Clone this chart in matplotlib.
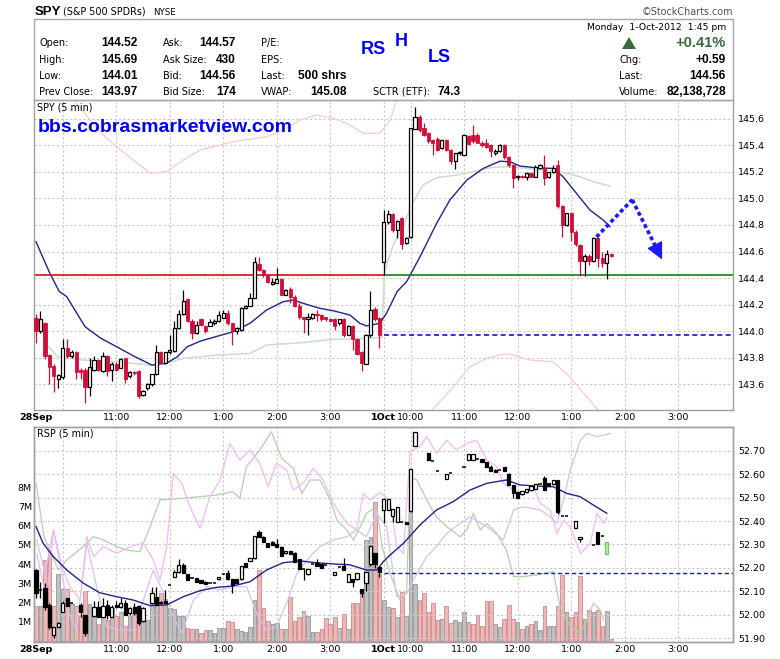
import numpy as np
import matplotlib
matplotlib.use("Agg")
import matplotlib.pyplot as plt
from matplotlib.patches import Rectangle, Polygon

plt.rcParams['font.family'] = ['DejaVu Sans']

# ---------------- time axis (5-minute bar index; 28 Sep = bars 0-77, 1 Oct = bars 78-) -------------
hour_ticks = [0, 6, 18, 30, 42, 54, 66, 78, 84, 96, 108, 120, 132, 144]
hour_labels = ["28Sep", "", "11:00", "12:00", "1:00", "2:00", "3:00",
               "1Oct", "10:00", "11:00", "12:00", "1:00", "2:00", "3:00"]
date_labels = ["28Sep", "1Oct"]
day2_start = 78

# ---------------- SPY 5-min candles ----------------
spy_open = [144.10,144.00,144.06,143.82,143.74,143.64,143.655,143.875,143.81,143.845,
            143.705,143.705,143.58,143.71,143.78,143.70,143.81,143.705,143.755,143.725,
            143.795,143.66,143.69,143.70,143.52,143.57,143.60,143.675,143.84,143.76,
            143.84,143.85,144.025,144.13,144.24,144.08,143.99,144.09,
            144.04,144.04,144.06,144.075,144.10,144.14,144.06,144.00,144.01,144.175,
            144.19,144.25,144.51,144.46,144.42,144.355,144.36,144.39,144.275,144.32,
            144.26,144.19,144.105,144.09,144.10,144.13,144.125,144.105,144.095,144.095,
            144.06,144.09,143.975,144.04,143.94,143.84,143.755,143.97,144.17,144.10,
            144.52,144.82,144.88,144.76,144.85,144.665,144.71,145.52,145.615,145.53,
            145.49,145.44,145.45,145.38,145.44,145.365,145.28,145.34,145.33,145.47,
            145.48,145.48,145.42,145.415,145.40,145.34,145.36,145.40,145.31,145.25,
            145.16,145.17,145.165,145.19,145.165,145.23,145.23,145.16,145.20,145.25,
            144.94,144.80,144.89,144.75,144.65,144.53,144.57,144.53,144.70,144.55,
            144.515,144.58]
spy_high = [144.13,144.15,144.07,143.83,143.75,143.68,143.94,143.94,143.86,143.85,
            143.725,143.72,143.80,143.81,143.79,143.84,143.82,143.77,143.77,143.80,
            143.80,143.70,143.70,143.71,143.56,143.61,143.68,143.90,143.85,143.84,
            143.975,144.08,144.16,144.31,144.25,144.09,144.08,144.10,
            144.05,144.09,144.09,144.15,144.16,144.16,144.06,144.03,144.18,144.20,
            144.29,144.56,144.56,144.47,144.43,144.40,144.475,144.40,144.32,144.33,
            144.27,144.21,144.11,144.14,144.14,144.16,144.13,144.11,144.10,144.10,
            144.09,144.10,144.05,144.05,143.95,143.85,143.98,144.30,144.18,144.11,
            144.91,144.91,144.89,144.84,144.86,144.71,145.53,145.69,145.63,145.57,
            145.50,145.45,145.46,145.44,145.45,145.37,145.34,145.36,145.48,145.48,
            145.55,145.49,145.43,145.45,145.41,145.37,145.41,145.41,145.32,145.26,
            145.18,145.18,145.20,145.20,145.25,145.26,145.33,145.20,145.25,145.29,
            144.95,144.89,144.90,144.76,144.66,144.58,144.58,144.71,144.71,144.60,
            144.615,144.59]
spy_low = [143.91,143.99,143.79,143.60,143.54,143.57,143.64,143.80,143.80,143.64,
           143.64,143.46,143.51,143.70,143.70,143.69,143.66,143.625,143.70,143.72,
           143.61,143.65,143.67,143.50,143.51,143.56,143.59,143.67,143.76,143.75,
           143.83,143.84,144.02,144.12,144.07,143.94,143.98,144.04,
           143.99,144.04,144.05,144.07,144.10,144.05,143.90,143.98,144.00,144.17,
           144.19,144.25,144.45,144.41,144.36,144.35,144.36,144.27,144.27,144.21,
           144.18,144.09,143.99,143.975,144.09,144.075,144.08,144.08,144.07,144.01,
           144.05,143.96,143.97,143.86,143.82,143.70,143.75,143.96,144.08,143.875,
           144.42,144.81,144.75,144.70,144.62,144.66,144.70,145.52,145.50,145.47,
           145.42,145.33,145.36,145.37,145.36,145.26,145.22,145.33,145.33,145.40,
           145.42,145.42,145.39,145.38,145.31,145.33,145.35,145.30,145.24,145.08,
           145.14,145.15,145.14,145.16,145.16,145.22,145.10,145.15,145.19,144.93,
           144.71,144.79,144.68,144.64,144.415,144.415,144.50,144.52,144.48,144.48,
           144.39,144.56]
spy_close = [144.00,144.09,143.81,143.73,143.66,143.67,143.875,143.81,143.845,143.69,
             143.695,143.58,143.73,143.78,143.71,143.81,143.70,143.755,143.71,143.79,
             143.64,143.69,143.685,143.51,143.55,143.605,143.675,143.845,143.76,143.84,
             143.855,144.025,144.13,144.225,144.08,143.99,144.05,144.05,
             144.00,144.07,144.08,144.12,144.14,144.06,144.00,144.025,144.175,144.19,
             144.25,144.52,144.46,144.42,144.37,144.37,144.39,144.275,144.31,144.26,
             144.19,144.11,144.09,144.11,144.13,144.125,144.09,144.09,144.08,144.04,
             144.09,143.975,144.04,143.94,143.83,143.76,143.97,144.16,144.09,143.975,
             144.82,144.88,144.76,144.83,144.66,144.70,145.53,145.61,145.515,145.48,
             145.43,145.42,145.365,145.44,145.365,145.28,145.34,145.35,145.48,145.41,
             145.43,145.42,145.40,145.39,145.36,145.36,145.40,145.31,145.25,145.15,
             145.17,145.16,145.19,145.165,145.24,145.25,145.15,145.20,145.23,144.94,
             144.80,144.89,144.75,144.655,144.53,144.57,144.53,144.70,144.55,144.515,
             144.58,144.565]

# SPY volume (millions per 5 min)
volume_m = [1.8,1.8,4.2,4.7,1.8,3.5,2.7,2.7,1.9,1.8,
            1.35,2.6,1.9,1.4,0.9,1.2,1.1,1.7,1.3,1.5,
            0.8,1.3,1.45,1.5,1.7,1.1,2.0,2.3,2.5,2.2,
            1.7,1.65,1.3,1.3,0.7,0.6,0.6,0.4,0.55,
            0.57,0.40,0.66,0.66,1.05,1.0,0.61,0.54,0.49,0.74,
            2.13,3.69,1.7,1.05,0.87,0.92,0.61,0.61,2.27,1.05,
            1.27,1.57,1.31,0.45,0.45,0.61,1.18,0.9,1.27,0.66,
            1.4,0.64,2.0,2.0,2.7,5.24,5.4,7.24,3.5,
            2.11,1.77,1.72,1.25,2.54,1.29,7.48,2.98,2.15,2.5,
            1.51,1.98,1.11,1.16,1.80,0.94,1.08,0.99,1.51,0.99,
            0.90,1.33,0.76,2.08,2.08,0.90,0.73,1.16,1.85,1.16,
            0.99,0.64,0.78,0.90,1.02,0.56,1.80,0.76,0.76,1.80,
            3.41,1.51,1.25,1.51,3.38,1.16,1.62,1.51,1.62,0.78,
            1.56,0.10]

# ---------------- RSP 5-min candles (None = no trade shown) ----------------
rsp_open = [52.191,52.106,52.113,52.042,51.914,51.95,52.014,52.07,52.049,None,
            52.042,52.0,None,51.995,52.035,51.992,52.042,51.992,52.042,52.032,
            52.052,52.007,52.035,52.038,51.975,None,52.049,52.078,52.049,52.059,
            52.127,52.16,52.184,52.213,52.174,52.159,52.155,52.149,52.142,52.134,
            52.134,52.151,52.174,52.18,52.151,52.151,52.151,52.22,52.231,52.241,
            52.352,52.333,52.305,52.312,52.301,52.291,52.262,52.27,52.265,52.237,
            52.194,52.174,52.215,52.22,52.217,52.213,None,52.17,52.205,52.208,
            52.142,52.151,52.151,52.11,52.137,52.217,52.262,52.205,
            52.448,52.448,52.42,52.396,52.396,52.396,52.443,52.72,None,None,
            52.69,52.655,52.613,None,52.578,52.605,None,None,52.63,52.659,
            52.66,52.663,52.663,52.652,52.63,52.619,52.619,52.63,52.602,52.552,
            52.524,52.517,52.524,52.534,52.538,52.559,52.584,52.562,52.559,52.574,
            52.42,52.42,None,52.37,52.325,None,None,52.296,52.353,52.335,
            52.261,None]
rsp_high = [52.195,52.14,52.134,52.05,51.95,51.97,52.06,52.07,52.049,None,
            52.05,52.0,None,52.06,52.06,52.07,52.065,52.04,52.06,52.07,
            52.065,52.035,52.05,52.04,52.035,None,52.12,52.12,52.06,52.106,
            52.127,52.19,52.237,52.22,52.175,52.159,52.156,52.15,52.143,52.134,
            52.134,52.16,52.174,52.19,52.152,52.152,52.21,52.22,52.241,52.336,
            52.362,52.334,52.306,52.313,52.322,52.292,52.274,52.271,52.266,52.238,
            52.194,52.194,52.215,52.237,52.218,52.213,None,52.184,52.205,52.241,
            52.174,52.152,52.177,52.11,52.184,52.294,52.263,52.206,
            52.50,52.495,52.453,52.46,52.396,52.397,52.62,52.78,None,None,
            52.69,52.655,52.613,None,52.602,52.605,None,None,52.63,52.687,
            52.687,52.663,52.664,52.653,52.64,52.62,52.619,52.631,52.603,52.553,
            52.525,52.528,52.538,52.548,52.557,52.559,52.59,52.563,52.574,52.575,
            52.42,52.42,None,52.399,52.332,None,None,52.296,52.354,52.335,
            52.311,None]
rsp_low = [52.07,52.07,52.02,51.94,51.90,51.95,52.01,52.038,52.049,None,
           51.99,51.91,None,51.99,51.99,51.99,51.98,51.99,52.03,52.03,
           52.0,52.0,52.0,51.955,51.97,None,52.045,52.04,52.045,52.049,
           52.127,52.16,52.18,52.177,52.149,52.159,52.142,52.134,52.132,52.134,
           52.134,52.15,52.174,52.15,52.092,52.137,52.15,52.203,52.23,52.24,
           52.333,52.312,52.291,52.298,52.288,52.251,52.26,52.259,52.227,52.194,
           52.149,52.17,52.215,52.208,52.198,52.213,None,52.17,52.205,52.191,
           52.14,52.12,52.15,52.078,52.10,52.21,52.20,52.163,
           52.39,52.445,52.396,52.395,52.396,52.386,52.44,52.72,None,None,
           52.662,52.655,52.613,None,52.578,52.605,None,None,52.63,52.659,
           52.66,52.663,52.652,52.63,52.612,52.609,52.619,52.612,52.552,52.50,
           52.50,52.51,52.52,52.53,52.535,52.559,52.531,52.548,52.555,52.43,
           52.42,52.42,None,52.37,52.31,None,None,52.296,52.301,52.335,
           52.26,None]
rsp_close = [52.092,52.106,52.035,51.95,51.95,51.964,52.049,52.038,52.049,None,
             52.014,51.921,None,52.035,51.992,52.038,52.0,52.035,52.032,52.049,
             52.0,52.031,52.007,51.964,52.03,None,52.092,52.042,52.056,52.049,
             52.127,52.184,52.213,52.177,52.149,52.159,52.142,52.134,52.132,52.134,
             52.134,52.16,52.174,52.151,52.127,52.137,52.21,52.203,52.241,52.336,
             52.333,52.312,52.291,52.298,52.288,52.251,52.274,52.259,52.227,52.194,
             52.194,52.194,52.215,52.208,52.198,52.213,None,52.184,52.205,52.191,
             52.174,52.142,52.177,52.095,52.184,52.294,52.217,52.184,
             52.495,52.495,52.453,52.46,52.396,52.386,52.62,52.78,None,None,
             52.662,52.655,52.613,None,52.602,52.605,None,None,52.63,52.687,
             52.687,52.663,52.652,52.63,52.612,52.609,52.619,52.612,52.552,52.521,
             52.50,52.528,52.538,52.548,52.557,52.559,52.531,52.548,52.574,52.439,
             52.42,52.42,None,52.399,52.332,None,None,52.296,52.301,52.335,
             52.311,None]

# ---------------- overlays (bar position, value) ----------------
spy_ma = [(0,144.674),(3.1,144.436),(5.2,144.30),(6.9,144.26),(11.0,144.034),(14.4,143.95),
          (18.1,143.883),(21.8,143.815),(26.0,143.745),(29.3,143.76),(31.7,143.808),
          (33.9,143.883),(36.8,143.925),(40.2,143.958),(44.2,143.996),(48.0,144.06),
          (51.7,144.16),(55.4,144.222),(57.7,144.235),(59.9,144.21),(63.7,144.172),
          (66.7,144.154),(70.4,144.122),(72.6,144.06),(74.1,144.04),(77.1,144.06),
          (78.6,144.135),(81.0,144.30),(83.1,144.373),(86.1,144.56),(89.8,144.81),
          (92.8,144.988),(96.6,145.138),(100.3,145.226),(104.0,145.28),(106.3,145.276),
          (108.5,145.244),(112.3,145.23),(116.0,145.226),(118.2,145.163),(121.2,145.038),
          (124.2,144.913),(127.2,144.837),(128.7,144.787)]
spy_vwap = [(0.5,144.084),(2.4,143.90),(4.8,143.81),(10.6,143.783),(18.1,143.77),
            (25.6,143.745),(29.3,143.758),(33.0,143.796),(40.5,143.82),(48.0,143.833),
            (51.7,143.896),(59.2,143.913),(66.7,143.939),(74.1,143.946),(77.6,143.954),
            (78.1,144.45),(80.1,144.649),(82.4,144.80),(84.6,144.975),(86.8,145.10),
            (89.8,145.156),(94.3,145.176),(98.0,145.201),(101.8,145.231),(105.5,145.239),
            (108.5,145.231),(113.0,145.214),(116.0,145.208),(119.0,145.189),(122.0,145.163),
            (125.0,145.126),(128.7,145.093)]
spy_band_upper = [(6.0,145.85),(10.0,145.68),(14.3,145.50),(18.1,145.389),(21.8,145.289),
                  (25.6,145.189),(29.3,145.201),(33.0,145.289),(36.8,145.364),(44.2,145.427),
                  (51.7,145.464),(55.4,145.515),(59.2,145.59),(62.9,145.628),(66.7,145.603),
                  (70.4,145.553),(73.4,145.49),(77.1,145.49),(79.4,145.59),(80.9,145.74),
                  (82.5,145.95)]
spy_band_lower = [(87.5,143.30),(88.3,143.39),(93.6,143.582),(97.3,143.733),(101.1,143.796),
                  (104.8,143.828),(106.3,143.828),(110.8,143.783),(116.0,143.77),
                  (119.7,143.657),(123.5,143.507),(126.5,143.39),(128.0,143.30)]
spy_level = 144.42
spy_prev_close = 143.97
arrow_x = [125.7, 133.7, 140.4]
arrow_y = [144.71, 144.99, 144.54]

rsp_ma = [(0,52.376),(1.6,52.305),(3.9,52.248),(6.9,52.191),(10.6,52.135),(14.3,52.094),
          (18.1,52.077),(21.8,52.063),(25.6,52.039),(29.3,52.042),(33.0,52.077),
          (36.8,52.103),(40.5,52.117),(44.2,52.123),(48.0,52.141),(51.7,52.191),
          (55.4,52.222),(59.2,52.230),(62.9,52.222),(66.7,52.217),(70.4,52.213),
          (74.1,52.191),(76.4,52.191),(77.9,52.227),(79.4,52.255),(82.4,52.305),
          (86.1,52.383),(89.8,52.447),(93.6,52.483),(97.3,52.532),(101.1,52.561),
          (105.5,52.575),(108.5,52.554),(112.3,52.549),(116.0,52.546),(119.0,52.518),
          (122.0,52.504),(125.0,52.468),(128.0,52.433)]
rsp_pink = [(0.15,52.262),(2.4,52.063),(3.9,52.362),(5.8,52.205),(7.6,52.12),(9.9,52.063),
            (11.4,52.333),(12.9,52.248),(15.1,52.291),(18.1,52.262),(21.1,52.291),
            (24.1,52.305),(26.3,52.234),(27.8,52.148),(29.3,52.291),(30.8,52.603),
            (32.7,52.561),(34.5,52.461),(36.8,52.369),(39.0,52.504),(41.3,52.575),
            (43.5,52.731),(45.7,52.660),(48.0,52.703),(50.2,52.646),(52.1,52.546),
            (53.9,52.646),(56.2,52.618),(57.7,52.532),(59.9,52.561),(62.2,52.625),
            (64.4,52.575),(66.7,52.475),(69.7,52.390),(71.9,52.362),(73.4,52.518),
            (74.9,52.490),(77.1,52.52),(79.4,52.49),(80.9,52.291),(82.4,52.262),
            (83.9,52.696),(86.1,52.717),(87.6,52.76),(89.8,52.689),(92.1,52.745),
            (94.3,52.703),(96.6,52.731),(98.8,52.745),(101.1,52.660),(103.3,52.632),
            (104.8,52.561),(107.1,52.532),(109.3,52.518),(111.6,52.546),(113.1,52.475),
            (115.3,52.447),(116.8,52.347),(118.3,52.404),(119.8,52.376),(122.1,52.262),
            (124.3,52.305),(125.8,52.433),(127.3,52.39),(128.0,52.411)]
rsp_purple = [(0.15,52.319),(2.0,52.177),(3.9,52.362),(5.8,52.177),(7.4,52.006),(9.1,51.935),
              (11.4,52.305),(13.6,52.12),(15.8,51.949),(18.8,51.935),(21.8,51.935),
              (24.1,52.063),(26.3,52.191),(28.6,52.092),(30.8,51.992),(32.7,51.921),
              (35.3,52.063),(38.3,52.12),(41.3,52.106),(44.2,52.12),(47.2,52.12),
              (49.5,52.006),(51.7,51.935),(53.9,51.949),(56.2,52.049),(58.5,52.177),
              (61.4,52.248),(63.7,52.291),(66.7,52.319),(69.7,52.333),(71.9,52.362),
              (74.1,52.333),(76.4,52.433),(78.6,52.376),(80.9,52.077),(83.1,52.09),
              (84.6,52.148),(87.6,52.248),(89.8,52.291),(92.1,52.347),(95.1,52.39),
              (97.3,52.418),(101.1,52.376),(104.8,52.319),(107.1,52.447),(109.3,52.461),
              (113.1,52.447),(115.3,52.418),(116.8,52.39),(118.3,52.49),(119.8,52.618),
              (122.1,52.745),(123.5,52.774),(125.8,52.76),(128.8,52.774)]
rsp_green = [(0,52.561),(1.8,52.333),(5.0,52.191),(6.9,52.234),(10.6,52.291),(12.9,52.333),
             (15.1,52.319),(18.1,52.291),(20.3,52.276),(23.3,52.269),(25.6,52.376),
             (27.8,52.49),(33.0,52.497),(36.8,52.504),(40.5,52.511),(44.2,52.525),
             (45.7,52.497),(47.2,52.632),(50.2,52.703),(52.8,52.781),(55.1,52.667),
             (57.7,52.625),(59.6,52.518),(61.4,52.575),(63.7,52.575),(66.0,52.49),
             (67.5,52.404),(69.7,52.362),(71.2,52.319),(72.7,52.376),(74.1,52.433),
             (76.4,52.461),(77.6,52.29),(79.4,52.177),(81.6,52.063),(83.1,52.092),
             (83.9,52.589),(85.4,52.575),(87.6,52.49),(89.8,52.418),(92.1,52.376),
             (95.1,52.333),(96.6,52.362),(98.1,52.433),(99.6,52.362),(101.1,52.39),
             (103.3,52.347),(105.5,52.276),(107.1,52.163),(109.3,52.163),(112.3,52.17),
             (116.0,52.184),(117.5,52.035),(119.8,51.949),(122.1,51.921),(123.5,51.978),
             (125.0,52.049),(126.5,52.02),(127.3,51.978)]
rsp_prev_close = 52.18

spy_ticks = [143.6, 143.8, 144.0, 144.2, 144.4, 144.6, 144.8, 145.0, 145.2, 145.4, 145.6]
rsp_ticks = [51.9, 52.0, 52.1, 52.2, 52.3, 52.4, 52.5, 52.6, 52.7]
vol_ticks = [1, 2, 3, 4, 5, 6, 7, 8]

# ---------------- figure ----------------
W, H = 780, 659
fig = plt.figure(figsize=(W / 100, H / 100), dpi=100)
fig.patch.set_facecolor("white")

def fbox(x0, y0, x1, y1):
    return [x0 / W, 1 - y1 / H, (x1 - x0) / W, (y1 - y0) / H]

def T(x, y, s, size=7.0, weight="normal", color="black", ha="left", family=None):
    kw = {}
    if family:
        kw["family"] = family
    fig.text(x / W, 1 - y / H, s, fontsize=size, fontweight=weight, color=color,
             ha=ha, va="center", **kw)

PX_L, PX_R = 34, 733
XLIM = (-0.45, 156.3)
GRID = dict(color="#c8c8c8", linestyle=(0, (2, 2)), linewidth=0.8)
SPINE = "#a0a0a0"

ax_top = fig.add_axes(fbox(PX_L, 100, PX_R, 410))
ax_vol = fig.add_axes(fbox(PX_L, 427, PX_R, 642))
ax_rsp = ax_vol.twinx()

n = len(spy_open)
xs = np.arange(n)
so, sh, sl, sc = map(np.array, (spy_open, spy_high, spy_low, spy_close))
up = sc >= so

def unzip(pairs):
    a = np.array(pairs, dtype=float)
    return a[:, 0], a[:, 1]

# ---------- top panel ----------
ax = ax_top
ax.set_xlim(*XLIM)
ax.set_ylim(143.407, 145.741)
for v in hour_ticks[1:]:
    ax.axvline(v, zorder=0, **GRID)
for v in spy_ticks:
    ax.axhline(v, zorder=0, **GRID)

x, y = unzip(spy_band_upper); ax.plot(x, y, color="#f7cccc", lw=0.9, zorder=1)
x, y = unzip(spy_band_lower); ax.plot(x, y, color="#f7cccc", lw=0.9, zorder=1)
x, y = unzip(spy_vwap); ax.plot(x, y, color="#c8dfc8", lw=1.1, zorder=1)
x, y = unzip(spy_ma); ax.plot(x, y, color="#23238a", lw=1.0, zorder=2)

ax.hlines(spy_level, XLIM[0], day2_start, color="#d01010", lw=1.2, zorder=2)
ax.hlines(spy_level, day2_start, XLIM[1], color="#108010", lw=1.2, zorder=2)
ax.hlines(spy_prev_close, day2_start, XLIM[1], color="#1010e0", lw=1.2,
          linestyle=(0, (3, 2)), zorder=2)

red = "#d0103a"
bw = 0.72
body_h = np.abs(sc - so)
bottoms = np.minimum(so, sc)
ax.vlines(xs[up], sl[up], sh[up], color="black", lw=0.9, zorder=3)
ax.vlines(xs[~up], sl[~up], sh[~up], color=red, lw=0.9, zorder=3)
ax.bar(xs[up], np.maximum(body_h[up], 0.004), bottom=bottoms[up], width=bw,
       facecolor="white", edgecolor="black", linewidth=0.9, zorder=4)
ax.bar(xs[~up], np.maximum(body_h[~up], 0.004), bottom=bottoms[~up], width=bw,
       facecolor=red, edgecolor=red, linewidth=0.6, zorder=4)

# hand-drawn dashed arrow
ax.plot(arrow_x[:2], arrow_y[:2], color="#1a1aff", lw=2.6, linestyle=(0, (1.1, 0.8)),
        zorder=5)
fr = 0.8
mid_x = arrow_x[1] + (arrow_x[2] - arrow_x[1]) * fr
mid_y = arrow_y[1] + (arrow_y[2] - arrow_y[1]) * fr
ax.plot([arrow_x[1], mid_x], [arrow_y[1], mid_y], color="#1a1aff", lw=2.6,
        linestyle=(0, (1.1, 0.8)), zorder=5)
ax.annotate("", xy=(arrow_x[2], arrow_y[2]), xytext=(mid_x, mid_y),
            arrowprops=dict(arrowstyle="-|>,head_length=0.8,head_width=0.4",
                            color="#1a1aff", lw=1.0, shrinkA=0, shrinkB=0,
                            mutation_scale=13), zorder=6)

ax.yaxis.tick_right()
ax.set_yticks(spy_ticks)
ax.set_yticklabels([f"{v:.1f}" for v in spy_ticks])
ax.tick_params(axis="y", length=0, pad=3.6, labelsize=6.8)

# ---------- bottom panel ----------
vol = np.array(volume_m)
ax_vol.set_xlim(*XLIM)
ax_vol.set_ylim(-0.052, 11.12)
for v in hour_ticks[1:]:
    ax_vol.axvline(v, zorder=0, **GRID)
ax_vol.bar(xs[up], vol[up], width=0.82, facecolor="#c0c0c0", edgecolor="#a0a0a0",
           linewidth=0.7, zorder=1)
ax_vol.bar(xs[~up], vol[~up], width=0.82, facecolor="#ebb9b9", edgecolor="#d59393",
           linewidth=0.7, zorder=1)
ax_vol.set_yticks(vol_ticks)
ax_vol.set_yticklabels([f"{v}M" for v in vol_ticks])
ax_vol.tick_params(axis="y", length=0, pad=1.5, labelsize=6.8)

ax = ax_rsp
ax.set_ylim(51.884, 52.801)
for v in rsp_ticks:
    ax.axhline(v, zorder=0, **GRID)
x, y = unzip(rsp_green); ax.plot(x, y, color="#b3d0ad", lw=0.9, zorder=1)
x, y = unzip(rsp_purple); ax.plot(x, y, color="#d6c2f0", lw=0.9, zorder=1)
x, y = unzip(rsp_pink); ax.plot(x, y, color="#f5b8f5", lw=0.9, zorder=1)
x, y = unzip(rsp_ma); ax.plot(x, y, color="#23238a", lw=1.0, zorder=2)
ax.hlines(rsp_prev_close, day2_start, XLIM[1], color="#1010e0", lw=1.0,
          linestyle=(0, (3, 2)), zorder=2)

def arr(v):
    return np.array([np.nan if a is None else a for a in v], dtype=float)

ro, rh, rl, rc = map(arr, (rsp_open, rsp_high, rsp_low, rsp_close))
valid = ~np.isnan(ro)
last_valid = np.where(valid)[0][-1]
for i in np.where(valid)[0]:
    o, h, l, c = ro[i], rh[i], rl[i], rc[i]
    if h > l:
        ax.vlines(i, l, h, color="black", lw=0.9, zorder=3)
    if abs(c - o) < 0.002:
        ax.hlines(o, i - bw / 2, i + bw / 2, color="black", lw=1.1, zorder=4)
        continue
    if i == last_valid:
        fc, ec = "#b8f0a8", "#7fbf70"
    elif c >= o:
        fc, ec = "white", "black"
    else:
        fc, ec = "black", "black"
    ax.bar(i, abs(c - o), bottom=min(o, c), width=bw, facecolor=fc, edgecolor=ec,
           linewidth=0.9, zorder=4)

ax.set_yticks(rsp_ticks)
ax.set_yticklabels([f"{v:.2f}" for v in rsp_ticks])
ax.tick_params(axis="y", length=0, pad=3.6, labelsize=6.8)

# ---------- shared x styling ----------
for a in (ax_top, ax_vol):
    a.set_xticks(hour_ticks)
    a.set_xticklabels(hour_labels)
    a.tick_params(axis="x", length=0, pad=1.8, labelsize=6.8)
    for lab in a.get_xticklabels():
        if lab.get_text() in date_labels:
            lab.set_fontweight("bold")
for a in (ax_top, ax_vol, ax_rsp):
    for s in a.spines.values():
        s.set_color(SPINE)
        s.set_linewidth(1.0)

# ---------- header ----------
fig.patches.append(Rectangle((PX_L / W, 1 - 100 / H), (PX_R - PX_L) / W, 81 / H,
                             transform=fig.transFigure, fill=False,
                             edgecolor="#a8a8a8", linewidth=1.0))
T(35, 12, "SPY", 9.5, "bold", family="Liberation Sans")
T(63, 12, "(S&P 500 SPDRs)", 6.9)
T(153, 12.5, "NYSE", 6.2)
T(733, 12, "\u00a9StockCharts.com", 6.9, color="#505050", ha="right")

rows_y = [43, 60, 76, 92]
for yy, lab, val in zip(rows_y, ["Open:", "High:", "Low:", "Prev Close:"],
                        ["144.52", "145.69", "144.01", "143.97"]):
    T(39, yy, lab, 7.0)
    T(101, yy, val, 8.6, "bold", family="Liberation Sans")
for yy, lab, val in zip(rows_y, ["Ask:", "Ask Size:", "Bid:", "Bid Size:"],
                        ["144.57", "430", "144.56", "174"]):
    T(163, yy, lab, 7.0)
    T(236, yy, val, 8.6, "bold", ha="right", family="Liberation Sans")
for yy, lab, val in zip(rows_y, ["P/E:", "EPS:", "Last:", "VWAP:"],
                        ["", "", "500 shrs", "145.08"]):
    T(261, yy, lab, 7.0)
    if val:
        T(347, yy, val, 8.6, "bold", ha="right", family="Liberation Sans")
T(373, 92, "SCTR (ETF):", 7.0)
T(437, 92, "74.3", 8.6, "bold", family="Liberation Sans")

T(726, 28, "Monday  1-Oct-2012  1:45 pm", 6.7, ha="right")
fig.patches.append(Polygon([(622 / W, 1 - 49 / H), (636 / W, 1 - 49 / H), (629 / W, 1 - 37 / H)],
                           closed=True, transform=fig.transFigure,
                           facecolor="#3b6b3b", edgecolor="none"))
T(726, 43, "+0.41%", 10.5, "bold", color="#3b6b3b", ha="right", family="Liberation Sans")
for yy, lab, val in zip(rows_y[1:], ["Chg:", "Last:", "Volume:"],
                        ["+0.59", "144.56", "82,138,728"]):
    T(619, yy, lab, 7.0)
    T(726, yy, val, 8.6, "bold", ha="right", family="Liberation Sans")

T(373, 50, "RS", 13, "bold", color="#0000ee", ha="center", family="Liberation Sans")
T(401, 41.5, "H", 13, "bold", color="#0000ee", ha="center", family="Liberation Sans")
T(439, 57.5, "LS", 13, "bold", color="#0000ee", ha="center", family="Liberation Sans")

T(37, 107, "SPY (5 min)", 6.9)
T(38, 127, "bbs.cobrasmarketview.com", 14, "bold", color="#0000ee", family="Liberation Sans")
T(37, 433, "RSP (5 min)", 6.9)

fig.savefig("out.png", dpi=100)
